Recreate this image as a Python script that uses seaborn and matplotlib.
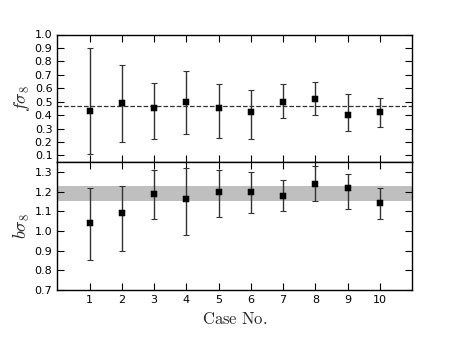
import numpy as np
import pandas as pd
import matplotlib
matplotlib.use("Agg")
import matplotlib.pyplot as plt
import seaborn as sns

# --- DATA ---
cases = [1, 2, 3, 4, 5, 6, 7, 8, 9, 10]
fs8 = [0.43, 0.49, 0.45, 0.50, 0.45, 0.42, 0.50, 0.52, 0.40, 0.42]
fs8_lo = [0.11, 0.20, 0.22, 0.26, 0.23, 0.22, 0.38, 0.40, 0.28, 0.31]
fs8_hi = [0.90, 0.77, 0.64, 0.73, 0.63, 0.59, 0.63, 0.65, 0.56, 0.53]
bs8 = [1.04, 1.09, 1.19, 1.16, 1.20, 1.20, 1.18, 1.24, 1.22, 1.14]
bs8_lo = [0.85, 0.90, 1.06, 0.98, 1.07, 1.09, 1.10, 1.15, 1.11, 1.06]
bs8_hi = [1.22, 1.23, 1.31, 1.32, 1.31, 1.30, 1.26, 1.33, 1.29, 1.22]
fs8_fid = 0.465
bs8_band = (1.15, 1.23)

df = pd.DataFrame({"case": cases, "fs8": fs8, "bs8": bs8})

sns.set_style("ticks")
plt.rcParams['mathtext.fontset'] = 'cm'
plt.rcParams['xtick.direction'] = 'in'
plt.rcParams['ytick.direction'] = 'in'
plt.rcParams['xtick.top'] = True
plt.rcParams['ytick.right'] = True
plt.rcParams['xtick.major.size'] = 5
plt.rcParams['ytick.major.size'] = 5
plt.rcParams['axes.edgecolor'] = 'black'
plt.rcParams['xtick.color'] = 'black'
plt.rcParams['ytick.color'] = 'black'

fig, (ax1, ax2) = plt.subplots(2, 1, figsize=(4.58, 3.45), dpi=100, sharex=True)
fig.subplots_adjust(left=0.125, right=0.9, top=0.90, bottom=0.16, hspace=0)

# --- TOP: f sigma_8 ---
yerr1 = [np.array(fs8) - np.array(fs8_lo), np.array(fs8_hi) - np.array(fs8)]
ax1.errorbar(cases, fs8, yerr=yerr1, fmt='none', ecolor='#333333', elinewidth=1,
             capsize=2.5, capthick=0.8)
sns.scatterplot(data=df, x="case", y="fs8", marker='s', color='k', s=20,
                edgecolor='k', ax=ax1, zorder=3)
ax1.axhline(fs8_fid, color='#333333', ls='--', lw=0.9)
ax1.set_ylim(0.05, 1.0)
ax1.set_yticks(np.arange(0.1, 1.01, 0.1))
ax1.set_ylabel(r'$f\sigma_8$', fontsize=13)

# --- BOTTOM: b sigma_8 ---
yerr2 = [np.array(bs8) - np.array(bs8_lo), np.array(bs8_hi) - np.array(bs8)]
ax2.axhspan(bs8_band[0], bs8_band[1], color='#bfbfbf', lw=0, zorder=0)
ax2.errorbar(cases, bs8, yerr=yerr2, fmt='none', ecolor='#333333', elinewidth=1,
             capsize=2.5, capthick=0.8)
sns.scatterplot(data=df, x="case", y="bs8", marker='s', color='k', s=20,
                edgecolor='k', ax=ax2, zorder=3)
ax2.set_ylim(0.7, 1.35)
ax2.set_yticks(np.arange(0.7, 1.31, 0.1))
ax2.set_ylabel(r'$b\sigma_8$', fontsize=13)
ax2.set_xlim(0, 11)
ax2.set_xticks(cases)
ax2.set_xlabel(r'$\mathrm{Case\ No.}$', fontsize=12)

for ax in (ax1, ax2):
    ax.tick_params(labelsize=8, width=0.8)
    for sp in ax.spines.values():
        sp.set_linewidth(1.0)
    ax.set_ylabel(ax.get_ylabel(), fontsize=13, labelpad=2)
ax1.set_xlabel('')

fig.savefig("out.png", dpi=100)
